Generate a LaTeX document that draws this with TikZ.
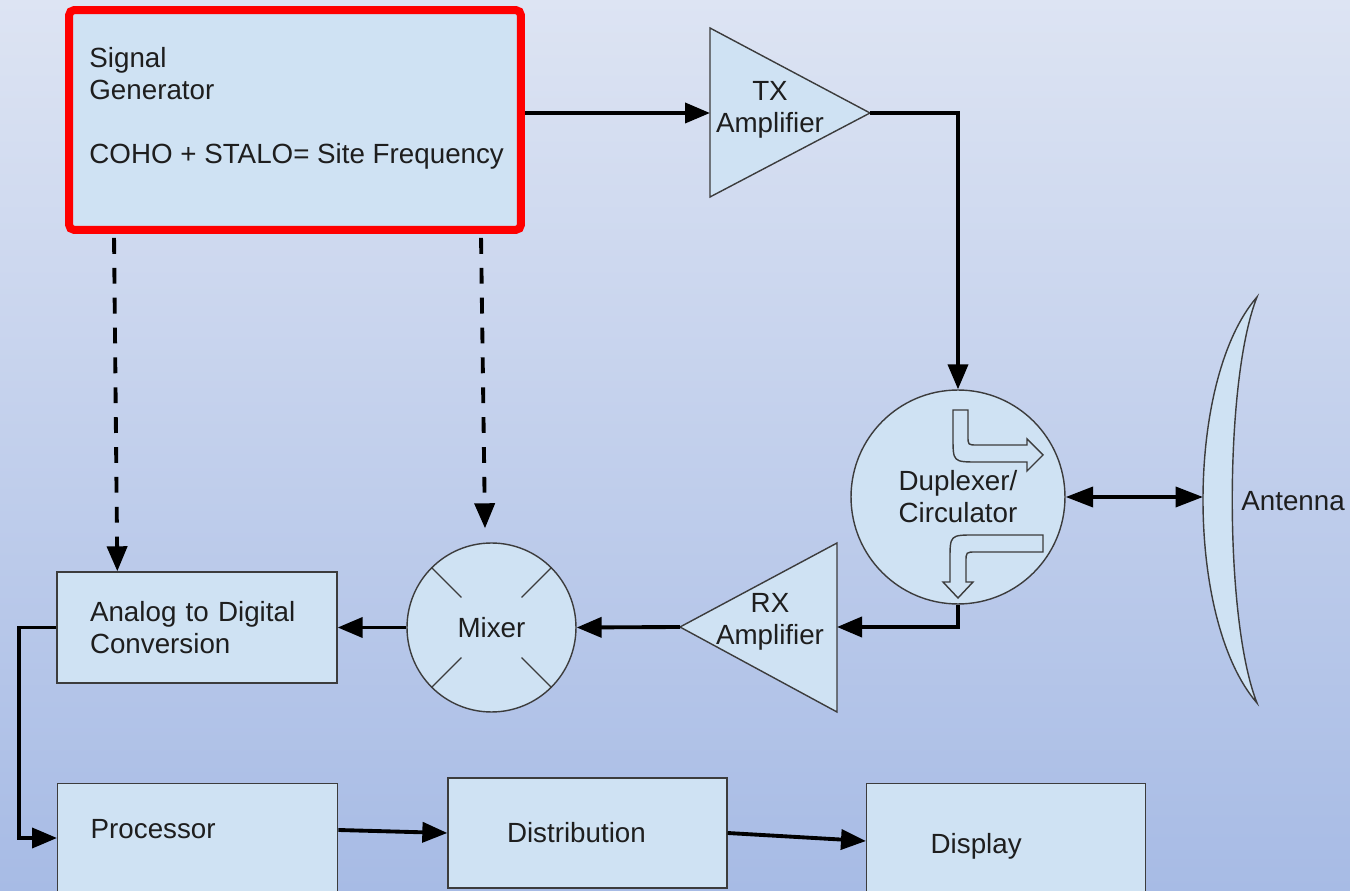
\documentclass[tikz,border=0pt]{standalone}
\usepackage{fontspec}
\setmainfont{Liberation Sans}
\usetikzlibrary{arrows.meta,calc}

\definecolor{bgtop}{RGB}{221,228,243}
\definecolor{bgbot}{RGB}{167,187,229}
\definecolor{partfill}{RGB}{207,226,243}
\definecolor{partline}{RGB}{60,60,60}
\definecolor{textcol}{RGB}{30,30,30}
\newcommand{\labelfont}{\fontsize{15.8}{18.2}\selectfont}

\tikzset{
  part/.style={draw=partline, fill=partfill, line width=0.8pt},
  txt/.style={font=\labelfont, text=textcol, inner sep=0pt},
  box/.style={part, rectangle, txt, align=left, inner ysep=0pt},
  openbox/.style={box, anchor=north west, text height=0.4cm, text depth=3cm},
  sigbox/.style={draw=red, fill=partfill, line width=0.16cm, rounded corners=3pt,
    minimum width=9.04cm, minimum height=4.4cm},
  arr/.style={draw=black, line width=2.2pt, -{Triangle[length=0.5cm,width=0.4cm]}},
  dblarr/.style={draw=black, line width=2.2pt,
    {Triangle[length=0.55cm,width=0.4cm]}-{Triangle[length=0.55cm,width=0.4cm]}},
  dasharr/.style={arr, dash pattern=on 9pt off 8pt}
}

\begin{document}
\begin{tikzpicture}[x=0.02cm, y=-0.02cm]
  \shade[top color=bgtop, bottom color=bgbot] (0,0) rectangle (1350,891);
  \useasboundingbox (0,0) rectangle (1350,891);
  \clip (0,0) rectangle (1350,891);

  % signal generator
  \node[sigbox] (sig) at (295,120) {};
  \node[txt, anchor=north west, align=left] (sigtext) at ($(sig.north west)+(24,41)$)
    {Signal\\Generator\\[18.2pt]COHO + STALO= Site Frequency};

  % amplifiers
  \coordinate (txin) at (710,113);
  \coordinate (txout) at (870,113);
  \draw[part] (710,28) -- (txout) -- (710,197) -- cycle;
  \node[txt, align=center] (txtext) at (770,110) {TX\\Amplifier};
  \coordinate (rxin) at (837,627);
  \coordinate (rxout) at (680,627);
  \draw[part] (837,543) -- (rxout) -- (837,712) -- cycle;
  \node[txt, align=center] (rxtext) at (770,622) {RX\\Amplifier};

  % duplexer with its two flow arrows
  \node[part, circle, minimum size=4.28cm, inner sep=0pt, txt, align=center] (circ) at (958,497)
    {Duplexer/\\Circulator};
  \draw[part] (953,410) -- (968,410) -- (968,436) .. controls (968,445) .. (977,445)
    -- (1027,445) -- (1027,439) -- (1043,455) -- (1027,471) -- (1027,462)
    -- (978,462) .. controls (953,462) .. (953,437) -- cycle;
  \draw[part] (1043,535) -- (1043,552) -- (976,552) .. controls (966,552) .. (966,562)
    -- (966,582) -- (973,582) -- (958,598) -- (943,582) -- (950,582)
    -- (950,560) .. controls (950,535) .. (975,535) -- cycle;

  % antenna
  \draw[part] (1257,297) .. controls (1185,380) and (1185,620) .. (1257,703)
    .. controls (1224,620) and (1224,380) .. (1257,297) -- cycle;
  \coordinate (ant) at (1203,500);
  \node[txt, anchor=west] (antlabel) at (1241,501) {Antenna};

  % mixer
  \node[part, circle, minimum size=3.38cm, inner sep=0pt, txt] (mixer) at (491.5,627.5) {Mixer};
  \foreach \a in {45,135,225,315}
    \draw[partline, line width=0.8pt] (mixer.\a) -- ($(mixer.center)!0.5!(mixer.\a)$);

  % boxes
  \node[box, minimum width=5.6cm, minimum height=2.22cm, text width=4.28cm, inner xsep=0.66cm]
    (adc) at (197,627.5) {Analog to Digital\\Conversion};
  \node[openbox, text width=4.28cm, inner xsep=0.66cm, inner ysep=0.7cm] (proc) at (57,783) {Processor};
  \node[box, minimum height=2.2cm, text width=3.22cm, inner xsep=1.18cm] (dist) at (587.5,833) {Distribution};
  \node[openbox, text width=3.02cm, inner xsep=1.28cm, inner ysep=1.0cm] (disp) at (866,783) {Display};
  \coordinate (procin) at ($(proc.north west)+(0,55)$);
  \coordinate (dispin) at ($(disp.north west)+(0,58)$);

  % connectors
  \draw[arr] (sig.east |- txin) -- (txin);
  \draw[arr] (txout) -| (circ.north);
  \draw[dblarr] (circ.east) -- (circ.east -| ant);
  \draw[arr] (circ.south) |- (rxin);
  \draw[arr] (rxout) -- (mixer.east);
  \draw[arr] (mixer.west) -- (adc.east);
  \draw[dasharr] ($(sig.south west)+(49,4)$) -- ($(adc.north west)+(61,0)$);
  \draw[dasharr] ($(sig.south west)+(416,4)$) -- ($(mixer.north)+(-6.5,-14)$);
  \draw[arr] (adc.west) -- ++(-37,0) |- (procin);
  \draw[arr] ($(proc.north east)+(0,47)$) -- (dist.west);
  \draw[arr] (dist.east) -- (dispin);
\end{tikzpicture}
\end{document}
